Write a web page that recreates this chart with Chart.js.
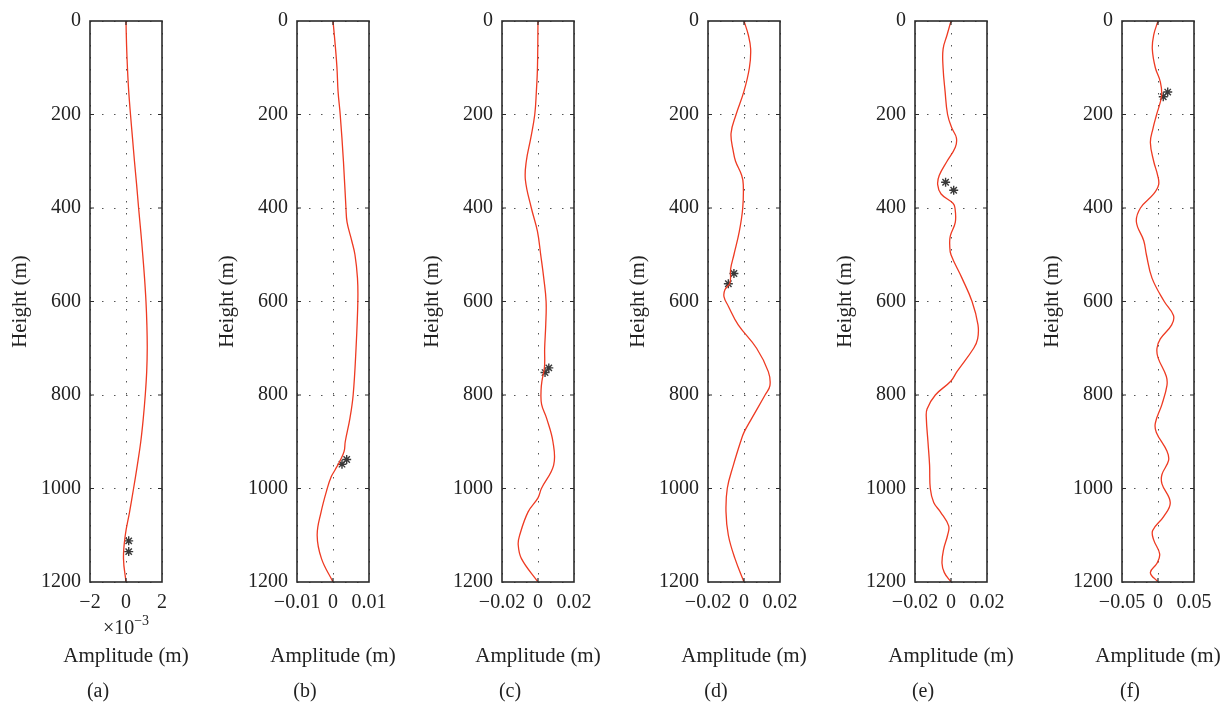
<!DOCTYPE html>
<html>
<head>
<meta charset="utf-8">
<script src="https://cdn.jsdelivr.net/npm/chart.js@4.4.1/dist/chart.umd.min.js"></script>
<style>
  html, body { margin: 0; padding: 0; background: #fff; overflow: hidden; }
  #wrap { position: relative; width: 1228px; height: 705px; }
  #wrap canvas { position: absolute; top: 0; }
</style>
</head>
<body>
<div id="wrap">
  <canvas id="pa" width="196" height="705" style="left:0px"></canvas>
  <canvas id="pb" width="196" height="705" style="left:207px"></canvas>
  <canvas id="pc" width="196" height="705" style="left:412px"></canvas>
  <canvas id="pd" width="196" height="705" style="left:618px"></canvas>
  <canvas id="pe" width="196" height="705" style="left:825px"></canvas>
  <canvas id="pf" width="196" height="705" style="left:1032px"></canvas>
</div>
<script>
// heights (m) and amplitudes (m)
const heightTicks = [0, 200, 400, 600, 800, 1000, 1200];

// (a) amplitude in units of 1e-3 m
const hA = [0, 50, 100, 150, 200, 250, 300, 350, 400, 450, 500, 550, 600, 650, 700, 750, 800, 850, 900, 950, 1000, 1050, 1100, 1150, 1200];
const ampA = [0, 0.03, 0.08, 0.15, 0.25, 0.36, 0.47, 0.59, 0.70, 0.82, 0.93, 1.03, 1.11, 1.16, 1.18, 1.15, 1.07, 0.96, 0.82, 0.63, 0.42, 0.20, -0.04, -0.14, 0];
const starA = { x: [0.15, 0.15], y: [1112, 1135] };
const ticksA = [-2, 0, 2];

const hB = [0, 50, 100, 150, 200, 300, 400, 430, 470, 500, 550, 600, 700, 800, 850, 900, 920, 940, 960, 975, 1000, 1050, 1100, 1150, 1200];
const ampB = [0, 0.0006, 0.0011, 0.0014, 0.002, 0.0029, 0.0036, 0.0039, 0.0052, 0.0061, 0.0068, 0.0069, 0.0064, 0.0056, 0.0047, 0.0034, 0.0031, 0.002, 0.0006, -0.0005, -0.0016, -0.0033, -0.0044, -0.0032, 0];
const starB = { x: [0.0025, 0.0038], y: [948, 938] };
const ticksB = [-0.01, 0, 0.01];

const hC = [0, 100, 150, 200, 250, 300, 340, 400, 450, 500, 550, 600, 650, 700, 740, 770, 790, 820, 850, 900, 950, 1000, 1020, 1050, 1100, 1120, 1150, 1200];
const ampC = [0, -0.0003, -0.0009, -0.0018, -0.004, -0.0065, -0.007, -0.0037, -0.0003, 0.0015, 0.0032, 0.0045, 0.0043, 0.0037, 0.0036, 0.0022, 0.0017, 0.002, 0.0048, 0.0083, 0.0087, 0.0019, 0, -0.0055, -0.0102, -0.011, -0.0092, 0];
const starC = { x: [0.0039, 0.006], y: [752, 742] };
const ticksC = [-0.02, 0, 0.02];

const hD = [0, 30, 60, 100, 150, 200, 240, 280, 300, 330, 350, 400, 450, 500, 530, 560, 575, 590, 610, 650, 700, 750, 780, 800, 850, 880, 900, 950, 1000, 1050, 1100, 1150, 1200];
const ampD = [0, 0.0024, 0.0037, 0.003, 0, -0.0044, -0.0072, -0.0059, -0.0047, -0.0013, -0.0004, -0.0007, -0.0026, -0.0056, -0.0074, -0.0078, -0.0106, -0.0111, -0.0087, -0.0032, 0.007, 0.0135, 0.0144, 0.0117, 0.0043, 0, -0.0019, -0.0059, -0.0093, -0.01, -0.0087, -0.005, 0];
const starD = { x: [-0.0087, -0.0056], y: [562, 540] };
const ticksD = [-0.02, 0, 0.02];

const hE = [0, 30, 60, 100, 150, 200, 230, 250, 270, 300, 330, 350, 370, 390, 400, 430, 460, 480, 500, 550, 600, 650, 680, 700, 750, 770, 800, 830, 850, 900, 950, 1000, 1030, 1050, 1080, 1100, 1130, 1160, 1180, 1200];
const ampE = [0, -0.0022, -0.0044, -0.0044, -0.0033, -0.0019, 0.0006, 0.003, 0.0024, -0.0022, -0.0065, -0.0074, -0.0055, 0.0011, 0.0022, 0.0024, -0.0004, -0.0007, 0, 0.0061, 0.0117, 0.015, 0.0148, 0.0126, 0.0033, 0, -0.0087, -0.0133, -0.0137, -0.0128, -0.0119, -0.0115, -0.0096, -0.0059, -0.0013, -0.0019, -0.0041, -0.005, -0.0037, 0];
const starE = { x: [-0.003, 0.0015], y: [345, 362] };
const ticksE = [-0.02, 0, 0.02];

const hF = [0, 30, 60, 100, 130, 160, 200, 230, 260, 300, 330, 350, 370, 400, 430, 470, 500, 550, 600, 630, 650, 680, 700, 720, 760, 780, 820, 860, 880, 920, 940, 970, 990, 1030, 1060, 1090, 1110, 1140, 1160, 1180, 1200];
const ampF = [0, -0.006, -0.0079, -0.0037, 0.0032, 0.005, -0.0019, -0.007, -0.0106, -0.006, -0.0005, 0.0009, -0.006, -0.0244, -0.03, -0.0198, -0.0161, -0.0083, 0.0087, 0.0215, 0.019, 0.0032, -0.0014, 0, 0.0115, 0.0124, 0.0055, -0.0037, -0.0023, 0.0124, 0.0147, 0.0055, 0.0055, 0.017, 0.0078, -0.0074, -0.006, 0.0023, -0.0014, -0.0106, 0];
const starF = { x: [0.0073, 0.0135], y: [162, 152] };
const ticksF = [-0.05, 0, 0.05];

const serif = "'Liberation Serif', 'Times New Roman', serif";
const ink = "#222";

const fmt = v => v === 0 ? "0" : String(v).replace("-", "\u2212");

const framePlugin = {
  id: "frame",
  afterDraw(chart, args, opts) {
    const { ctx, chartArea: a, scales } = chart;
    ctx.save();
    ctx.strokeStyle = "#2b2b2b";
    ctx.lineWidth = 1.6;
    ctx.strokeRect(a.left, a.top, a.right - a.left, a.bottom - a.top);

    // small inward ticks
    ctx.lineWidth = 1.2;
    ctx.beginPath();
    scales.y.ticks.forEach(t => {
      if (t.value <= scales.y.min || t.value >= scales.y.max) return;
      const py = scales.y.getPixelForValue(t.value);
      ctx.moveTo(a.left, py); ctx.lineTo(a.left + 4, py);
      ctx.moveTo(a.right, py); ctx.lineTo(a.right - 4, py);
    });
    scales.x.ticks.forEach(t => {
      if (t.value <= scales.x.min || t.value >= scales.x.max) return;
      const px = scales.x.getPixelForValue(t.value);
      ctx.moveTo(px, a.top); ctx.lineTo(px, a.top + 4);
      ctx.moveTo(px, a.bottom); ctx.lineTo(px, a.bottom - 4);
    });
    ctx.stroke();

    const cx = (a.left + a.right) / 2;
    ctx.fillStyle = ink;
    ctx.textBaseline = "middle";
    ctx.textAlign = "center";
    ctx.font = "21px " + serif;
    ctx.fillText("Amplitude (m)", cx, a.bottom + 74);
    ctx.font = "20px " + serif;
    ctx.fillText(opts.label, a.left + 8, a.bottom + 110);

    if (opts.exponent) {
      const base = "\u00d710";
      ctx.font = "20px " + serif;
      const wb = ctx.measureText(base).width;
      ctx.font = "14px " + serif;
      const we = ctx.measureText(opts.exponent).width;
      const x0 = cx - (wb + we) / 2;
      ctx.textAlign = "left";
      ctx.font = "20px " + serif;
      ctx.fillText(base, x0, a.bottom + 47);
      ctx.font = "14px " + serif;
      ctx.fillText(opts.exponent, x0 + wb, a.bottom + 39);
    }
    ctx.restore();
  }
};

function makePanel(id, heights, amps, stars, xTicks, label, exponent) {
  const curve = heights.map((h, i) => ({ x: amps[i], y: h }));
  const marks = stars.x.map((x, i) => ({ x: x, y: stars.y[i] }));
  const xMin = xTicks[0], xMax = xTicks[xTicks.length - 1];
  new Chart(document.getElementById(id), {
    type: "scatter",
    data: {
      datasets: [
        { data: curve, showLine: true, borderColor: "#ee3a22", borderWidth: 1.3, pointRadius: 0, tension: 0.4, fill: false },
        { data: marks, showLine: false, pointStyle: "star", pointRadius: 4.5, borderColor: "#3a3a3a", backgroundColor: "#3a3a3a", borderWidth: 1.4 }
      ]
    },
    options: {
      responsive: false,
      animation: false,
      layout: { padding: { left: 0, right: 34, top: 19, bottom: 36 } },
      plugins: {
        legend: { display: false },
        tooltip: { enabled: false },
        frame: { label: label, exponent: exponent }
      },
      scales: {
        x: {
          type: "linear", min: xMin, max: xMax,
          afterFit: s => { s.height = 87; },
          afterBuildTicks: s => { s.ticks = xTicks.map(v => ({ value: v })); },
          grid: { color: "#555", lineWidth: 1, drawTicks: false },
          border: { display: false, dash: [1.5, 10.5] },
          ticks: { autoSkip: false, maxRotation: 0, padding: 9, color: ink, font: { family: serif, size: 20 }, callback: v => fmt(v) },
          title: { display: false }
        },
        y: {
          type: "linear", reverse: true, min: 0, max: 1200,
          afterFit: s => { s.width = 90; },
          afterBuildTicks: s => { s.ticks = heightTicks.map(v => ({ value: v })); },
          grid: { color: "#555", lineWidth: 1, drawTicks: false },
          border: { display: false, dash: [1.5, 10.5] },
          ticks: { padding: 9, color: ink, font: { family: serif, size: 20 }, callback: v => String(v) },
          title: { display: true, text: "Height (m)", color: ink, font: { family: serif, size: 21 }, padding: { top: 8, bottom: 0 } }
        }
      }
    },
    plugins: [framePlugin]
  });
}

makePanel("pa", hA, ampA, starA, ticksA, "(a)", "\u22123");
makePanel("pb", hB, ampB, starB, ticksB, "(b)");
makePanel("pc", hC, ampC, starC, ticksC, "(c)");
makePanel("pd", hD, ampD, starD, ticksD, "(d)");
makePanel("pe", hE, ampE, starE, ticksE, "(e)");
makePanel("pf", hF, ampF, starF, ticksF, "(f)");
</script>
</body>
</html>
